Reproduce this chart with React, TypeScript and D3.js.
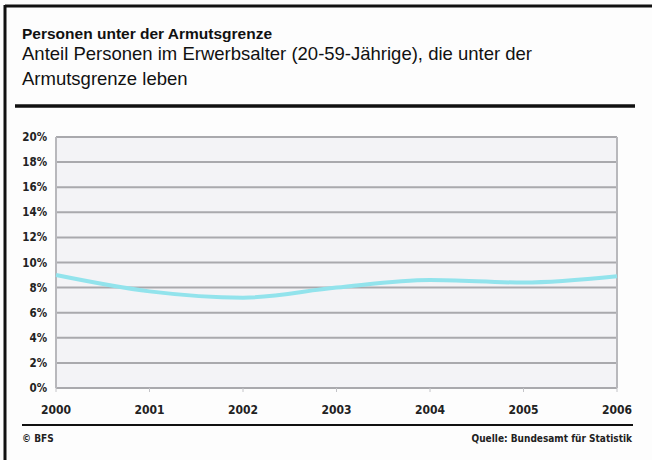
import React from "react";
import * as d3 from "d3";

const years = ["2000", "2001", "2002", "2003", "2004", "2005", "2006"];
const shares = [9.0, 7.7, 7.2, 8.0, 8.6, 8.4, 8.9];
const yTicks = [0, 2, 4, 6, 8, 10, 12, 14, 16, 18, 20];

const W = 652;
const H = 460;
const font = "'DejaVu Sans Condensed', 'DejaVu Sans', sans-serif";
const headFont = "'Liberation Sans', Arial, sans-serif";

const App = () => {
  const left = 56, right = 617, top = 137, bottom = 388;

  const x = d3.scalePoint<string>().domain(years).range([left, right]);
  const y = d3.scaleLinear().domain([0, 20]).range([bottom, top]);

  const line = d3
    .line<number>()
    .x((d, i) => x(years[i]) as number)
    .y((d) => y(d))
    .curve(d3.curveMonotoneX);

  return (
    <svg
      width={W}
      height={H}
      style={{ position: "absolute", left: 0, top: 0, background: "#fdfdfd" }}
      fontFamily={font}
    >
      {/* frame, only top and left visible in the scan */}
      <line x1={5} x2={W} y1={6} y2={6} stroke="#111" strokeWidth={3} />
      <line x1={5} x2={5} y1={5} y2={H} stroke="#111" strokeWidth={3} />

      <g fontFamily={headFont} fill="#111">
        <text x={22} y={39} fontSize={15.5} fontWeight="bold">
          Personen unter der Armutsgrenze
        </text>
        <text x={22} y={60} fontSize={18.5}>
          Anteil Personen im Erwerbsalter (20-59-Jährige), die unter der
        </text>
        <text x={22} y={85} fontSize={18.5}>
          Armutsgrenze leben
        </text>
      </g>
      <line x1={15} x2={635} y1={106} y2={106} stroke="#111" strokeWidth={3.5} />

      <rect x={left} y={top} width={right - left} height={bottom - top} fill="#f3f3f6" />

      {yTicks.map((t) => (
        <g key={t}>
          <line x1={left} x2={right} y1={y(t)} y2={y(t)} stroke="#a9a9ad" strokeWidth={2} />
          <text
            x={47}
            y={y(t)}
            dy="0.35em"
            textAnchor="end"
            fontSize={11.5}
            fontWeight="bold"
            fill="#222"
          >
            {t}%
          </text>
        </g>
      ))}

      <line x1={left} x2={left} y1={top} y2={bottom} stroke="#b8b8bc" strokeWidth={2} />
      <line x1={right} x2={right} y1={top} y2={bottom} stroke="#b8b8bc" strokeWidth={2} />

      {years.map((yr) => (
        <g key={yr}>
          <line x1={x(yr)} x2={x(yr)} y1={bottom} y2={bottom + 4} stroke="#c4c4c8" strokeWidth={1} />
          <text
            x={x(yr)}
            y={414}
            textAnchor="middle"
            fontSize={12}
            fontWeight="bold"
            fill="#222"
          >
            {yr}
          </text>
        </g>
      ))}

      <path d={line(shares) ?? ""} fill="none" stroke="#92e3ec" strokeWidth={4} />

      <line x1={22} x2={633} y1={425} y2={425} stroke="#111" strokeWidth={2} />
      <text x={22} y={442} fontSize={10} fontWeight="bold" fill="#222">
        © BFS
      </text>
      <text x={632} y={442} textAnchor="end" fontSize={10} fontWeight="bold" fill="#222">
        Quelle: Bundesamt für Statistik
      </text>
    </svg>
  );
};

export default App;
